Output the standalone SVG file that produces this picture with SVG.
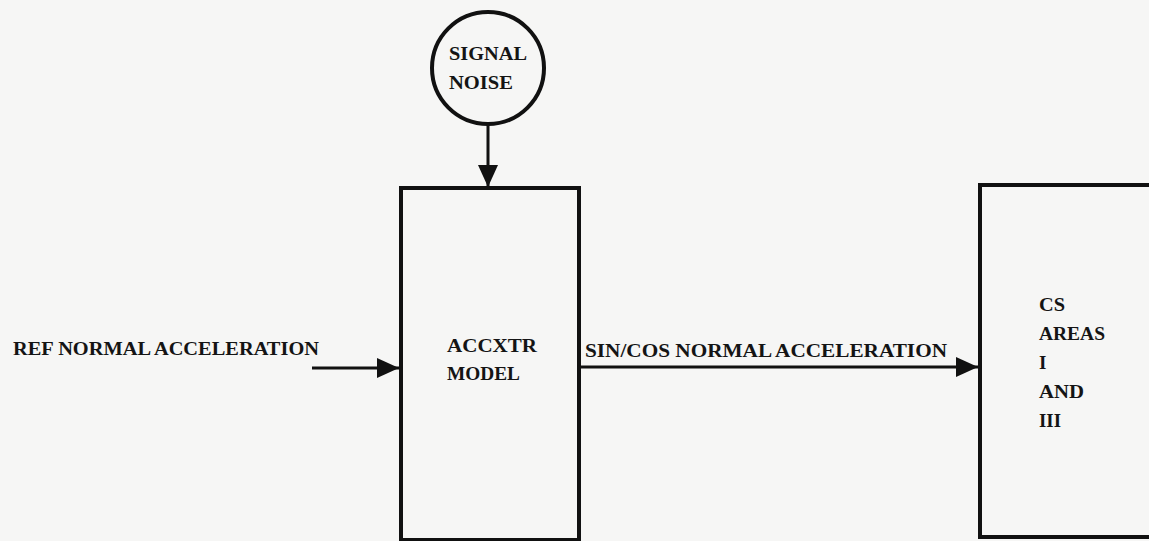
<svg xmlns="http://www.w3.org/2000/svg" width="1149" height="541" viewBox="0 0 1149 541">
  <style>
    .box { fill: none; stroke: #111; stroke-width: 4; }
    .conn { fill: none; stroke: #111; stroke-width: 3; }
    .lbl { font-family: "Liberation Serif", "DejaVu Serif", serif; font-weight: bold; font-size: 19px; fill: #141414; }
  </style>
  <defs>
    <marker id="arrow" markerUnits="userSpaceOnUse" markerWidth="23" markerHeight="21" refX="22" refY="10" orient="auto">
      <path d="M0,0 L22,10 L0,20 z" fill="#111"/>
    </marker>
  </defs>
  <rect x="0" y="0" width="1149" height="541" fill="#f6f6f5"/>

  <g id="signal-noise">
    <circle cx="488" cy="68" r="56" class="box"/>
    <text class="lbl" x="449" y="60" textLength="78" lengthAdjust="spacingAndGlyphs">SIGNAL</text>
    <text class="lbl" x="449" y="89" textLength="64" lengthAdjust="spacingAndGlyphs">NOISE</text>
  </g>

  <g id="ref-label">
    <text class="lbl" x="13" y="355" textLength="306" lengthAdjust="spacingAndGlyphs">REF NORMAL ACCELERATION</text>
  </g>

  <g id="accxtr-model">
    <rect x="401" y="188" width="178" height="352" class="box"/>
    <text class="lbl" x="447" y="352" textLength="90" lengthAdjust="spacingAndGlyphs">ACCXTR</text>
    <text class="lbl" x="447" y="380" textLength="73" lengthAdjust="spacingAndGlyphs">MODEL</text>
  </g>

  <g id="cs-areas">
    <rect x="980" y="185" width="200" height="352" class="box"/>
    <text class="lbl" x="1039" y="311" textLength="26" lengthAdjust="spacingAndGlyphs">CS</text>
    <text class="lbl" x="1039" y="340" textLength="66" lengthAdjust="spacingAndGlyphs">AREAS</text>
    <text class="lbl" x="1039" y="369">I</text>
    <text class="lbl" x="1039" y="398" textLength="45" lengthAdjust="spacingAndGlyphs">AND</text>
    <text class="lbl" x="1039" y="427" textLength="22" lengthAdjust="spacingAndGlyphs">III</text>
  </g>

  <g id="connectors">
    <line x1="488" y1="124" x2="488" y2="187" class="conn" marker-end="url(#arrow)"/>
    <line x1="312" y1="368" x2="399" y2="368" class="conn" marker-end="url(#arrow)"/>
    <line x1="581" y1="367" x2="978" y2="367" class="conn" marker-end="url(#arrow)"/>
    <text class="lbl" x="585" y="357" textLength="362" lengthAdjust="spacingAndGlyphs">SIN/COS NORMAL ACCELERATION</text>
  </g>
</svg>
